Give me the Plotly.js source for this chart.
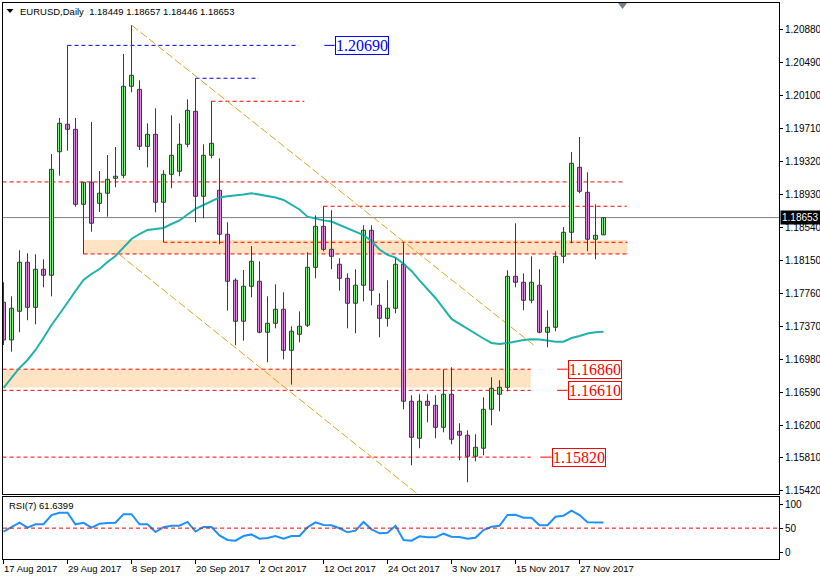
<!DOCTYPE html>
<html><head><meta charset="utf-8">
<script src="https://cdn.plot.ly/plotly-3.0.1.min.js"></script>
<style>html,body{margin:0;padding:0;background:#fff}#chart{width:820px;height:576px}</style>
</head><body><div id="chart"></div>
<script>
// ---- DATA ----
const dates = [
 '2017-08-17','2017-08-18','2017-08-21','2017-08-22','2017-08-23','2017-08-24','2017-08-25','2017-08-28','2017-08-29','2017-08-30','2017-08-31',
 '2017-09-01','2017-09-04','2017-09-05','2017-09-06','2017-09-07','2017-09-08','2017-09-11','2017-09-12','2017-09-13','2017-09-14','2017-09-15',
 '2017-09-18','2017-09-19','2017-09-20','2017-09-21','2017-09-22','2017-09-25','2017-09-26','2017-09-27','2017-09-28','2017-09-29',
 '2017-10-02','2017-10-03','2017-10-04','2017-10-05','2017-10-06','2017-10-09','2017-10-10','2017-10-11','2017-10-12','2017-10-13',
 '2017-10-16','2017-10-17','2017-10-18','2017-10-19','2017-10-20','2017-10-23','2017-10-24','2017-10-25','2017-10-26','2017-10-27',
 '2017-10-30','2017-10-31','2017-11-01','2017-11-02','2017-11-03','2017-11-06','2017-11-07','2017-11-08','2017-11-09','2017-11-10',
 '2017-11-13','2017-11-14','2017-11-15','2017-11-16','2017-11-17','2017-11-20','2017-11-21','2017-11-22','2017-11-23','2017-11-24',
 '2017-11-27','2017-11-28','2017-11-29','2017-11-30'];
const open = [1.17652,1.17206,1.17545,1.18125,1.17592,1.18042,1.17971,1.19432,1.19757,1.19697,1.18810,
 1.19071,1.18822,1.18941,1.19118,1.19153,1.20206,1.20170,1.19496,1.19638,1.18834,1.19165,
 1.19201,1.19520,1.19910,1.18905,1.19390,1.18976,1.18456,1.17912,1.17427,1.17841,
 1.17900,1.17297,1.17403,1.17569,1.17084,1.17273,1.17380,1.18065,1.18550,1.18278,
 1.18101,1.17935,1.17640,1.17853,1.18503,1.17616,1.17462,1.17581,1.18101,1.16481,
 1.16043,1.16481,1.16433,1.16173,1.16564,1.16126,1.16079,1.15830,1.15925,1.16386,
 1.16564,1.16646,1.17959,1.17888,1.17675,1.17853,1.17297,1.17356,1.18195,1.18479,
 1.19248,1.18952,1.18397,1.18449];
const high = [1.17888,1.17722,1.18266,1.18231,1.18219,1.18160,1.19405,1.19831,1.20690,1.19831,1.19071,
 1.19784,1.19204,1.19393,1.19488,1.20588,1.20927,1.20277,1.19768,1.19946,1.19213,1.19863,
 1.19768,1.20052,1.20301,1.19520,1.20029,1.19354,1.18598,1.17935,1.18033,1.18317,
 1.18136,1.17722,1.17864,1.17770,1.17368,1.17545,1.18243,1.18680,1.18787,1.18739,
 1.18172,1.17994,1.18042,1.18562,1.18562,1.17758,1.17912,1.18172,1.18361,1.16552,
 1.16564,1.16564,1.16552,1.16859,1.16883,1.16221,1.16138,1.16090,1.16528,1.16765,
 1.16729,1.18030,1.18586,1.17994,1.18195,1.18042,1.17557,1.18255,1.18542,1.19429,
 1.19606,1.19189,1.18810,1.18657];
const low = [1.17147,1.17067,1.17297,1.17439,1.17391,1.17829,1.17722,1.19149,1.19444,1.18782,1.18223,
 1.18486,1.18719,1.18664,1.19012,1.19118,1.20135,1.19453,1.19248,1.18716,1.18361,1.19000,
 1.19142,1.19485,1.18598,1.18645,1.19354,1.18337,1.17552,1.17143,1.17197,1.17711,
 1.17285,1.16942,1.17344,1.16977,1.16677,1.17178,1.17359,1.17935,1.18255,1.18042,
 1.17789,1.17344,1.17285,1.17663,1.17616,1.17238,1.17363,1.17521,1.16386,1.15724,
 1.15925,1.16232,1.16043,1.16114,1.15972,1.15783,1.15523,1.15771,1.15842,1.16197,
 1.16362,1.16599,1.17829,1.17557,1.17640,1.17285,1.17119,1.17309,1.18113,1.18349,
 1.18941,1.18255,1.18160,1.18446];
const close = [1.17206,1.17581,1.18125,1.17592,1.18042,1.17971,1.19224,1.19768,1.19697,1.18810,1.19071,
 1.18586,1.18941,1.19106,1.19142,1.20206,1.20336,1.19496,1.19638,1.18834,1.19165,1.19390,
 1.19520,1.19922,1.18905,1.19390,1.19532,1.18456,1.17900,1.17427,1.17841,1.18136,
 1.17297,1.17403,1.17569,1.17084,1.17309,1.17368,1.18065,1.18550,1.18278,1.18195,
 1.17935,1.17640,1.17853,1.18503,1.17793,1.17462,1.17581,1.18101,1.16481,1.16055,
 1.16481,1.16433,1.16173,1.16564,1.16031,1.16079,1.15830,1.15937,1.16386,1.16634,
 1.16646,1.17959,1.17888,1.17675,1.17888,1.17297,1.17356,1.18195,1.18479,1.19295,
 1.18964,1.18397,1.18444,1.18653];
const ma = [1.16638,1.16756,1.16875,1.16969,1.17087,1.17229,1.17383,1.17513,1.17655,1.17785,1.17915,
 1.17986,1.18045,1.18128,1.18199,1.18305,1.18400,1.18459,1.18507,1.18518,1.18530,1.18577,
 1.18619,1.18689,1.18755,1.18802,1.18844,1.18891,1.18905,1.18913,1.18926,1.18942,
 1.18926,1.18909,1.18890,1.18861,1.18806,1.18749,1.18664,1.18640,1.18620,1.18607,
 1.18566,1.18527,1.18489,1.18447,1.18376,1.18276,1.18213,1.18180,1.18108,1.18022,
 1.17910,1.17804,1.17702,1.17579,1.17455,1.17395,1.17336,1.17279,1.17223,1.17170,
 1.17158,1.17170,1.17190,1.17206,1.17214,1.17212,1.17200,1.17186,1.17186,1.17229,
 1.17253,1.17283,1.17298,1.17304];
const rsi = [42.6,51.8,61.3,51,58,58,77,82,82,58,61,
 51,59,60.5,61.3,79,79,58,58,42,52,55,
 55,63,43,52.4,52.4,35,25.5,24,33.7,37,
 28.2,29.6,33.7,28.2,33.7,33.7,51.8,62,56.5,56,
 49.7,41.4,44.7,62.7,47.6,39.3,40.6,55,25.5,24,
 33.1,31,31,38.5,32.3,31.7,28.2,30.2,46.2,53,
 55,77.2,77.8,71.7,71.7,55.9,55.9,73.7,75.8,86.1,
 77.2,62.1,61.3,61.6399];
const tickDates = ['2017-08-17','2017-08-29','2017-09-08','2017-09-20','2017-10-02','2017-10-12','2017-10-24','2017-11-03','2017-11-15','2017-11-27'];
const tickLabels = ['17 Aug 2017','29 Aug 2017','8 Sep 2017','20 Sep 2017','2 Oct 2017','12 Oct 2017','24 Oct 2017','3 Nov 2017','15 Nov 2017','27 Nov 2017'];
const priceTicks = [1.15420,1.15810,1.16200,1.16590,1.16980,1.17370,1.17760,1.18150,1.18540,1.18930,1.19320,1.19710,1.20100,1.20490,1.20880];
const rsiTicks = [0,50,100];
const symbol = 'EURUSD,Daily';
const rsiName = 'RSI(7)';
const levelHigh = 1.20690, level2 = 1.20301, level3 = 1.20029, level4 = 1.19075, level5 = 1.18787;
const zone1Top = 1.18388, zone1Line = 1.18361, zone1Bot = 1.18223;
const zone2Top = 1.16860, zone2Bot = 1.16645, level1661 = 1.16610, level1582 = 1.15820;
const chan1 = [[16.04,1.20927],[66.25,1.17147]];
const chan2 = [[14.4,1.18223],[51.6,1.15396]];

// ---- STYLE ----
const UP='#8CF28C', DN='#E28EE2', EDGE='#3C3C3C', RED='#FF0000', BLUE='#0000FF', ZONE='#FFE3C2', GOLD='#DAA520';
const n = dates.length;
const wx=[], wy=[], base=[], hgt=[], col=[];
for (let i=0;i<n;i++){
  wx.push(dates[i],dates[i],null); wy.push(low[i],high[i],null);
  base.push(Math.min(open[i],close[i])); hgt.push(Math.max(Math.abs(close[i]-open[i]),0.00002));
  col.push(close[i]>=open[i]?UP:DN);
}
const traces = [
 {type:'scatter',mode:'lines',x:dates,y:ma,line:{color:'#20B2AA',width:2},hoverinfo:'skip',xaxis:'x',yaxis:'y'},
 {type:'scatter',mode:'lines',x:wx,y:wy,line:{color:EDGE,width:1},hoverinfo:'skip',connectgaps:false,xaxis:'x',yaxis:'y'},
 {type:'bar',x:dates,y:hgt,base:base,width:0.5,opacity:1,marker:{color:col,opacity:1,line:{color:EDGE,width:1}},hoverinfo:'skip',xaxis:'x',yaxis:'y'},
 {type:'scatter',mode:'lines',x:dates,y:rsi,line:{color:'#1E90FF',width:2},hoverinfo:'skip',xaxis:'x2',yaxis:'y2'}
];
function hline(x0,x1,y,color,dash,w){return {type:'line',xref:'x',yref:'y',x0:x0,x1:x1,y0:y,y1:y,line:{color:color,width:w||1,dash:dash||'solid'},layer:'below'};}
const DASH='4px,3px';
const shapes = [
 {type:'rect',xref:'x',yref:'y',x0:10,x1:78,y0:zone1Bot,y1:zone1Top,fillcolor:ZONE,line:{width:0},layer:'below'},
 {type:'rect',xref:'x',yref:'y',x0:-1,x1:65.9,y0:zone2Bot,y1:zone2Top,fillcolor:ZONE,line:{width:0},layer:'below'},
 hline(8,36.9,levelHigh,BLUE,DASH),
 hline(24,31.9,level2,BLUE,DASH),
 hline(26,37.6,level3,RED,DASH),
 hline(-1,77.75,level4,RED,DASH),
 hline(40,77.9,level5,RED,DASH),
 hline(20,78,zone1Line,RED,DASH),
 hline(10,78,zone1Bot,RED,DASH),
 hline(-1,65.9,zone2Top,RED,DASH),
 hline(-1,65.9,level1661,RED,DASH),
 hline(-1,65.9,level1582,RED,DASH),
 {type:'line',xref:'x',yref:'y',x0:chan1[0][0],y0:chan1[0][1],x1:chan1[1][0],y1:chan1[1][1],line:{color:GOLD,width:1,dash:'8px,3px'},layer:'below'},
 {type:'line',xref:'x',yref:'y',x0:chan2[0][0],y0:chan2[0][1],x1:chan2[1][0],y1:chan2[1][1],line:{color:GOLD,width:1,dash:'8px,3px'},layer:'below'},
 {type:'line',xref:'paper',yref:'y',x0:0,x1:1,y0:close[n-1],y1:close[n-1],line:{color:'#808080',width:1},layer:'below'},
 {type:'line',xref:'paper',yref:'y2',x0:0,x1:1,y0:50,y1:50,line:{color:RED,width:1,dash:DASH}},
 hline(40.1,41.4,levelHigh,BLUE),
 hline(69.2,70.5,zone2Top,RED),
 hline(69.2,70.5,level1661,RED),
 hline(67.1,68.5,level1582,RED),
 {type:'path',xref:'paper',yref:'paper',path:'M 0.7925 1 L 0.8041 1 L 0.7983 0.9892 Z',fillcolor:'#708090',line:{width:0}},
 {type:'path',xref:'paper',yref:'paper',path:'M 0.0045 0.9892 L 0.0135 0.9892 L 0.009 0.982 Z',fillcolor:'#000',line:{width:0}}
];
function lab(x,y,txt,color){return {xref:'x',yref:'y',x:x,y:y,xanchor:'left',yanchor:'middle',text:txt,showarrow:false,
  font:{family:'Liberation Serif, Times New Roman, serif',size:16,color:color},bordercolor:color,borderwidth:1,borderpad:0,bgcolor:'#fff'};}
const annotations = [
 {xref:'paper',yref:'paper',x:0.0193,y:0.9856,xanchor:'left',yanchor:'middle',showarrow:false,
  text:symbol+'  '+[open[n-1],high[n-1],low[n-1],close[n-1]].map(v=>v.toFixed(5)).join(' '),font:{size:9.5,color:'#000'}},
 {xref:'paper',yref:'paper',x:0.0052,y:0.0971,xanchor:'left',yanchor:'middle',showarrow:false,
  text:rsiName+' '+rsi[n-1].toFixed(4),font:{size:9.5,color:'#000'}},
 lab(41.4,levelHigh,levelHigh.toFixed(5),BLUE),
 lab(70.5,zone2Top,zone2Top.toFixed(5),RED),
 lab(70.5,level1661,level1661.toFixed(5),RED),
 lab(68.5,level1582,level1582.toFixed(5),RED),
 {xref:'paper',yref:'y',x:1.0013,y:close[n-1],xanchor:'left',yanchor:'middle',showarrow:false,text:close[n-1].toFixed(5),
  font:{size:10,color:'#fff'},bgcolor:'#000',borderpad:1}
];
tickDates.forEach((d,k)=>{
  annotations.push({xref:'x2',yref:'paper',x:dates.indexOf(d),y:-0.0165,xanchor:'left',yanchor:'middle',xshift:-2,
    showarrow:false,text:tickLabels[k],font:{size:9.5,color:'#000'}});
});
const axLine = {showline:true,mirror:true,linecolor:'#000',linewidth:1,showgrid:false,zeroline:false,fixedrange:true};
const layout = {
 width:820,height:576,margin:{l:3,r:41,t:3,b:17,pad:0},
 paper_bgcolor:'#fff',plot_bgcolor:'#fff',showlegend:false,
 font:{family:'Liberation Sans, Arial, sans-serif',size:10,color:'#000'},
 xaxis:Object.assign({type:'category',range:[-0.0625,96.9375],anchor:'y',showticklabels:false,ticks:''},axLine),
 xaxis2:Object.assign({type:'category',matches:'x',anchor:'y2',tickmode:'array',tickvals:tickDates,showticklabels:false,
   ticks:'outside',ticklen:4,tickcolor:'#000'},axLine),
 yaxis:Object.assign({domain:[0.11691,1],range:[1.15384,1.21191],side:'right',anchor:'x',tickmode:'array',
   tickvals:priceTicks,ticktext:priceTicks.map(v=>v.toFixed(5)),ticks:'outside',ticklen:3,tickcolor:'#000'},axLine),
 yaxis2:Object.assign({domain:[0,0.11151],range:[-13.9,114.5],side:'right',anchor:'x2',tickmode:'array',
   tickvals:rsiTicks,ticktext:rsiTicks.map(String),ticks:'outside',ticklen:3,tickcolor:'#000'},axLine),
 shapes:shapes,annotations:annotations
};
Plotly.newPlot('chart',traces,layout,{displayModeBar:false,staticPlot:true});
</script></body></html>
